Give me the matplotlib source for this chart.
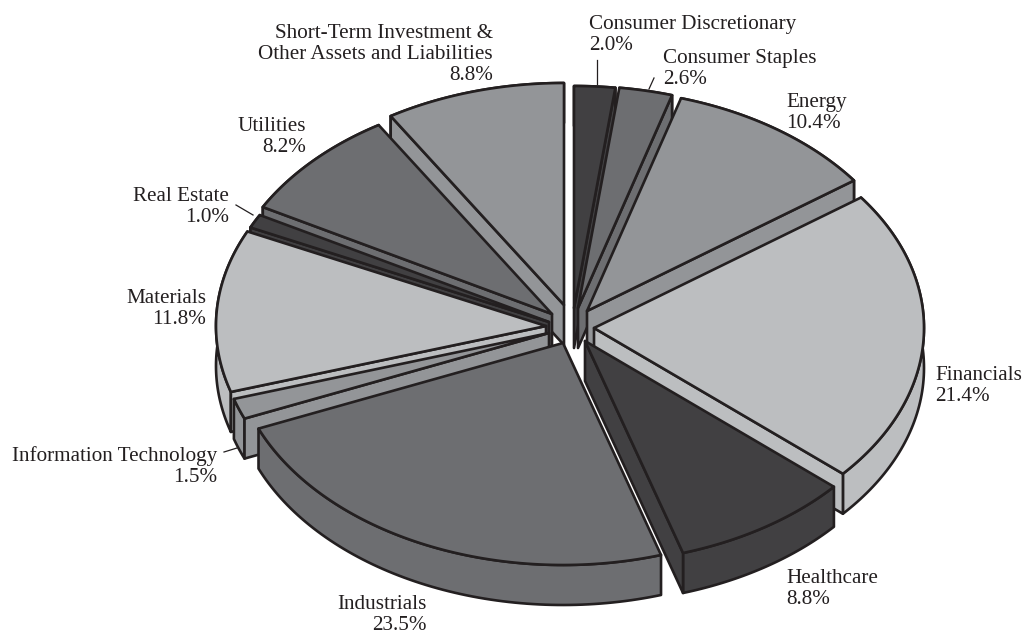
import numpy as np
import matplotlib
matplotlib.use('Agg')
import matplotlib.pyplot as plt
from matplotlib.patches import Polygon

plt.rcParams['font.family'] = ['Liberation Serif', 'DejaVu Serif']

# sector names and weights, clockwise from 12 o'clock
sectors = ['Consumer Discretionary', 'Consumer Staples', 'Energy', 'Financials', 'Healthcare',
           'Industrials', 'Information Technology', 'Materials', 'Real Estate', 'Utilities',
           'Short-Term Investment &\nOther Assets and Liabilities']
weights = [2.0, 2.6, 10.4, 21.4, 8.8, 23.5, 1.5, 11.8, 1.0, 8.2, 8.8]

# colours cycle through four greys
greys = ['#414042', '#6D6E71', '#939598', '#BCBEC0']

# how far each slice is pulled out of the pie centre (dx, dy in pixels)
center = (566, 322)
pull_x = [8, 12, 21, 28, 19, -3, -17, -20, -17, -14, -2]
pull_y = [-14, -14, -11, 6, 19, 21, 11, 4, 0, -8, -17]

rx, ry = 330, 222
depth = 40
line_w = 1.9

# label x, baseline of the last line, alignment
label_x = [589, 663, 786, 935, 786, 427, 217, 206, 229, 306, 493]
label_y = [50, 84, 128, 401, 604, 630, 482, 324, 222, 152, 80]
label_ha = ['left', 'left', 'left', 'left', 'left', 'right', 'right', 'right', 'right', 'right', 'right']
line_step = 20.8

# leader lines: x0, y0, x1, y1
leaders = [(597, 60, 597, 84), (654, 78, 649, 89), (236, 205, 253, 215), (224, 452, 237, 448)]

fig = plt.figure(figsize=(10.24, 6.34), dpi=100)
ax = fig.add_axes([0, 0, 1, 1])
ax.set_xlim(0, 1024)
ax.set_ylim(634, 0)
ax.axis('off')

edges = np.cumsum([0] + weights) / sum(weights) * 2 * np.pi


def draw_face(pts, color, z):
    ax.add_patch(Polygon(pts, closed=True, facecolor=color, edgecolor='#231F20',
                         linewidth=line_w, joinstyle='round', zorder=z))


# back slices first so the front ones overlap them
mids = (edges[:-1] + edges[1:]) / 2
order = np.argsort(-np.cos(mids))
for n, i in enumerate(order):
    t0, t1 = edges[i], edges[i + 1]
    ax0 = center[0] + pull_x[i]
    ay0 = center[1] + pull_y[i]
    t = np.linspace(t0, t1, 80)
    rim = np.column_stack([ax0 + rx * np.sin(t), ay0 - ry * np.cos(t)])
    apex = np.array([ax0, ay0])
    drop = np.array([0, depth])
    col = greys[i % 4]
    z = n * 2 + 1

    # outer wall
    draw_face(np.vstack([rim, rim[::-1] + drop]), col, z)
    # cut walls, only the ones facing the viewer
    if np.sin(t0) < 0:
        draw_face(np.array([apex, rim[0], rim[0] + drop, apex + drop]), col, z)
    if np.sin(t1) > 0:
        draw_face(np.array([apex, rim[-1], rim[-1] + drop, apex + drop]), col, z)
    # top face
    draw_face(np.vstack([apex, rim]), col, z + 1)

# one text per line, the name and the value have different widths
for i in range(len(sectors)):
    lines = sectors[i].split('\n') + ['%.1f%%' % weights[i]]
    for k, line in enumerate(lines):
        y = label_y[i] - (len(lines) - 1 - k) * line_step
        ax.text(label_x[i], y, line, ha=label_ha[i], va='baseline',
                fontsize=15.2, color='#231F20', zorder=50)

for x0, y0, x1, y1 in leaders:
    ax.plot([x0, x1], [y0, y1], color='#231F20', lw=0.9, zorder=50)

fig.savefig('out.png', dpi=100)
